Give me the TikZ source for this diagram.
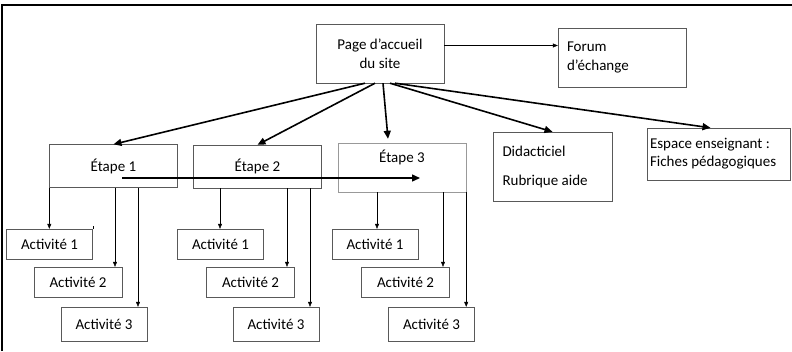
\documentclass[tikz,border=0pt]{standalone}
\usepackage{fontspec}
\setmainfont{Carlito}
\usetikzlibrary{arrows.meta}
\tikzset{>={Triangle[length=5pt,width=4pt]}}

\begin{document}
\begin{tikzpicture}[x=1pt,y=-1pt,
  box/.style={draw=black!65,fill=white,font=\fontsize{15}{19}\selectfont,inner sep=0pt},
  act/.style={box,minimum width=86pt,minimum height=30pt},
  etape/.style={box,minimum width=128pt,minimum height=43pt},
  fine/.style={->,black},
  gros/.style={-{Triangle[length=8pt,width=7pt]},line width=1.6pt,black}]
\useasboundingbox (0,0) rectangle (792,351);
\draw[line width=2.5pt] (2,351) -- (2,5) -- (792,5);
% haut
\node[box,minimum width=128pt,minimum height=59pt,align=center] (home) at (380,53.5) {Page d'accueil\\du site};
\node[box,minimum width=128pt,minimum height=59pt,text width=110pt,align=flush left] (forum) at (622,57.5) {Forum\\d'échange};
\draw[fine] ([yshift=8pt]home.east) coordinate (f) -- (f -| forum.west);
% etapes
\node[etape] (e1) at (113.5,166) {Étape 1};
\node[etape] (e2) at (257.5,166.5) {Étape 2};
\node[etape,draw=black!40,minimum height=49pt,text height=10pt,text depth=20pt] (e3) at (402,167.5) {Étape 3};
\node[box,minimum width=119pt,minimum height=69pt,text width=100pt,align=flush left] (didac) at (552.5,166.5) {Didacticiel\\[10pt]Rubrique aide};
\node[box,minimum width=143pt,minimum height=52pt,text width=137pt,align=flush left,font=\fontsize{15}{18}\selectfont] (prof) at (718.5,154) {Espace enseignant :\\Fiches pédagogiques};
\draw[gros] ([xshift=-15pt]home.south) -- (e1.north);
\draw[gros] ([xshift=-5pt]home.south) -- (e2.north);
\draw[gros] ([xshift=3pt]home.south) -- ([xshift=-14pt,yshift=4pt]e3.north);
\draw[gros] ([xshift=10pt]home.south) -- (didac.north);
\draw[gros] ([xshift=15pt]home.south) -- ([xshift=-8pt]prof.north);
% activites
\foreach \i/\xa/\xb/\xc in {1/49.5/78/104, 2/220.5/250.5/276, 3/375/405.5/431.5} {
  \node[act] (a\i1) at (\xa,244) {Activité 1};
  \node[act,minimum width=88pt] (a\i2) at (\xb,282) {Activité 2};
  \node[act,minimum height=34pt] (a\i3) at (\xc,324) {Activité 3};
}
\draw (a11.north east) -- ++(0,-3);
\draw[fine] (e1.south west) coordinate (t) -- (t |- a11.north);
\draw[fine] ([xshift=1.5pt]e1.south) coordinate (t) -- (t |- a12.north);
\draw[fine] ([xshift=24.5pt]e1.south) coordinate (t) -- (t |- a13.north);
\draw[fine] ([xshift=-37.5pt]e2.south) coordinate (t) -- (t |- a21.north);
\draw[fine] ([xshift=29.5pt]e2.south) coordinate (t) -- (t |- a22.north);
\draw[fine] ([xshift=52.5pt]e2.south) coordinate (t) -- (t |- a23.north);
\draw[fine] ([xshift=-25pt]e3.south) coordinate (t) -- (t |- a31.north);
\draw[fine] ([xshift=41pt]e3.south) coordinate (t) -- (t |- a32.north);
\draw[fine] (e3.south east) coordinate (t) -- (t |- a33.north);
% fleche entre etapes
\draw[gros,line width=1.4pt] ([shift={(8.5,12)}]e1.center) -- ++(298,0);
\end{tikzpicture}
\end{document}
